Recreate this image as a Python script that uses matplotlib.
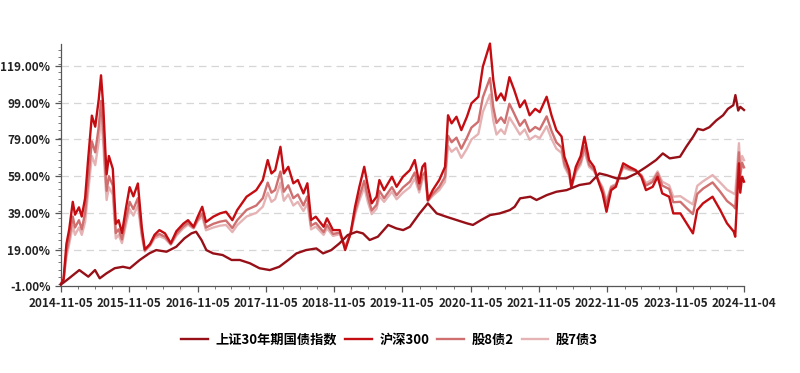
import matplotlib
matplotlib.use("Agg")
import matplotlib.pyplot as plt
import matplotlib.dates as mdates
from matplotlib.ticker import MultipleLocator, FuncFormatter
import pandas as pd

plt.rcParams['font.family'] = ['Noto Sans CJK SC', 'DejaVu Sans']

series_names = ["上证30年期国债指数", "沪深300", "股8债2", "股7债3"]

bond_dates = ["2014-11-05", "2014-11-20", "2014-12-19", "2015-02-12", "2015-04-01", "2015-05-07",
              "2015-06-01", "2015-07-07", "2015-08-20", "2015-10-03", "2015-11-09", "2016-01-01",
              "2016-02-21", "2016-03-29", "2016-05-23", "2016-07-14", "2016-08-27", "2016-10-03",
              "2016-10-28", "2016-11-26", "2016-12-22", "2017-01-27", "2017-03-19", "2017-05-06",
              "2017-06-19", "2017-08-12", "2017-10-02", "2017-11-26", "2018-01-16", "2018-03-05",
              "2018-04-18", "2018-06-08", "2018-08-02", "2018-09-07", "2018-10-21", "2018-12-04",
              "2019-01-17", "2019-03-06", "2019-04-08", "2019-05-14", "2019-06-27", "2019-08-21",
              "2019-10-04", "2019-11-09", "2019-12-15", "2020-02-05", "2020-03-20", "2020-05-06",
              "2020-06-26", "2020-08-20", "2020-10-14", "2020-11-16", "2020-12-30", "2021-02-16",
              "2021-04-08", "2021-06-01", "2021-06-27", "2021-07-26", "2021-09-19", "2021-10-22",
              "2021-12-16", "2022-02-05", "2022-04-01", "2022-05-15", "2022-06-09", "2022-08-03",
              "2022-09-23", "2022-10-30", "2022-12-23", "2023-02-12", "2023-04-08", "2023-06-01",
              "2023-07-23", "2023-08-28", "2023-10-04", "2023-11-28", "2023-12-31", "2024-02-06",
              "2024-03-02", "2024-03-31", "2024-05-03", "2024-06-09", "2024-07-15", "2024-08-10",
              "2024-09-08", "2024-09-19", "2024-10-04", "2024-10-15", "2024-11-04"]
bond_values = [0, 1.0, 3.3, 7.8, 4.2, 7.8,
               3.3, 6.0, 8.8, 9.6, 8.8, 13.3,
               16.9, 18.7, 17.8, 20.5, 25.1, 27.8,
               28.7, 24.2, 18.7, 16.9, 16.0, 13.3,
               13.3, 11.5, 8.8, 7.8, 9.6, 13.3,
               16.9, 18.7, 19.6, 16.9, 18.7, 22.4,
               26.9, 28.7, 27.8, 24.2, 26.0, 32.4,
               30.5, 29.6, 31.4, 38.7, 44.2, 38.7,
               36.9, 35.1, 33.3, 32.4, 35.1, 37.8,
               38.7, 40.5, 42.3, 46.9, 47.8, 46.0,
               48.7, 50.5, 51.4, 53.2, 54.2, 55.1,
               60.5, 59.6, 57.8, 57.8, 60.5, 64.1,
               67.8, 71.4, 68.7, 69.6, 75.0, 80.5,
               84.8, 84.1, 85.7, 89.4, 92.2, 95.7,
               97.7, 103.2, 94.8, 96.8, 95.1]

stock_dates = ["2014-11-05", "2014-11-20", "2014-12-05", "2014-12-20", "2015-01-08", "2015-01-20",
               "2015-02-10", "2015-02-25", "2015-03-15", "2015-03-31", "2015-04-20", "2015-05-08",
               "2015-05-27", "2015-06-08", "2015-06-20", "2015-07-01", "2015-07-08", "2015-07-20",
               "2015-08-10", "2015-08-26", "2015-09-10", "2015-09-28", "2015-10-20", "2015-11-08",
               "2015-11-28", "2015-12-22", "2016-01-12", "2016-01-28", "2016-02-25", "2016-03-20",
               "2016-04-15", "2016-05-15", "2016-06-15", "2016-07-15", "2016-08-20", "2016-09-15",
               "2016-10-15", "2016-11-06", "2016-11-30", "2016-12-20", "2017-01-28", "2017-03-05",
               "2017-04-06", "2017-05-10", "2017-06-05", "2017-07-25", "2017-09-15", "2017-10-20",
               "2017-11-15", "2017-12-05", "2017-12-25", "2018-01-22", "2018-02-09", "2018-03-05",
               "2018-04-01", "2018-04-25", "2018-05-25", "2018-06-15", "2018-07-05", "2018-07-30",
               "2018-09-10", "2018-09-28", "2018-10-30", "2018-12-05", "2019-01-03", "2019-02-01",
               "2019-02-25", "2019-03-20", "2019-04-15", "2019-05-05", "2019-05-25", "2019-06-20",
               "2019-07-05", "2019-07-30", "2019-09-10", "2019-10-05", "2019-11-08", "2019-12-15",
               "2020-01-10", "2020-02-03", "2020-02-20", "2020-03-05", "2020-03-20", "2020-04-15",
               "2020-05-20", "2020-06-20", "2020-07-06", "2020-07-25", "2020-08-20", "2020-09-15",
               "2020-10-15", "2020-11-08", "2020-12-15", "2021-01-08", "2021-01-30", "2021-02-15",
               "2021-03-05", "2021-03-22", "2021-04-15", "2021-05-05", "2021-05-30", "2021-06-25",
               "2021-07-25", "2021-08-20", "2021-09-15", "2021-10-15", "2021-11-08", "2021-12-15",
               "2022-01-10", "2022-02-05", "2022-03-05", "2022-03-20", "2022-04-15", "2022-04-26",
               "2022-05-20", "2022-06-15", "2022-07-05", "2022-07-30", "2022-08-25", "2022-09-15",
               "2022-10-10", "2022-10-31", "2022-11-25", "2022-12-20", "2023-01-28", "2023-03-01",
               "2023-04-05", "2023-05-05", "2023-05-30", "2023-07-05", "2023-07-31", "2023-08-25",
               "2023-10-01", "2023-10-23", "2023-11-30", "2024-01-02", "2024-02-05", "2024-02-28",
               "2024-03-30", "2024-05-20", "2024-06-30", "2024-08-05", "2024-09-10", "2024-09-18",
               "2024-10-08", "2024-10-15", "2024-10-25", "2024-11-04"]

csi300_values = [0, 3, 22, 30, 45, 38,
                 42, 37, 47, 68, 92, 86,
                 101, 114, 97, 73, 60, 70,
                 63, 33, 35, 28, 42, 53,
                 48, 55, 31, 19, 22, 27,
                 29.6, 27.8, 22.4, 29, 33, 35,
                 31.4, 36.9, 42.3, 34, 36.9, 38.7,
                 39.6, 35, 40.5, 47.8, 51.4, 56.9,
                 67.8, 60.5, 62.3, 75, 60.5, 64.1,
                 55.1, 56.9, 49.6, 55.1, 35.1, 36.9,
                 31.4, 36, 29.6, 29.6, 18.7, 27.8,
                 42.3, 53.2, 64.1, 53.2, 44.2, 47.8,
                 56.9, 51.4, 58.7, 53.2, 58.7, 62.3,
                 67.8, 55.1, 64.1, 66, 46, 51.4,
                 56.9, 64.1, 92.2, 87.8, 91.4, 84.1,
                 91.4, 98.7, 102.3, 118.7, 125.9, 131.3,
                 111.3, 100.3, 104.1, 100.3, 113, 105.9,
                 96.6, 100.3, 92.2, 95.7, 93.9, 102.3,
                 92.2, 84.1, 80.6, 69.6, 62.3, 53.2,
                 64.1, 70, 80.5, 67.8, 64.1, 56.9,
                 49.6, 39.6, 51.4, 53.2, 66, 64.1,
                 62.3, 58.7, 51.4, 53.2, 58.7, 49.6,
                 47.8, 38.7, 38.7, 33.3, 27.8, 40.5,
                 44.2, 47.8, 40.5, 33.3, 28.8, 26,
                 66, 50, 58.7, 56]

mix82_values = [0, 2.6, 17.5, 25, 37, 31,
                35, 30, 39, 56, 78, 72,
                86, 100, 84, 62, 51, 59,
                54, 28, 30, 24.5, 36, 45,
                41, 47, 28, 18.5, 21.5, 26,
                27.5, 26, 22, 27.5, 31.5, 33.5,
                30.8, 35.3, 38.7, 31, 33, 34.2,
                34.8, 30.7, 35, 40.6, 43, 47,
                55.5, 50, 51.5, 61.5, 50.5, 54,
                47, 49, 43, 48, 32, 33.5,
                28.5, 32.5, 27.5, 28.2, 20, 27.7,
                39.5, 48, 56.5, 47.5, 40.3, 43.4,
                51, 47, 53, 48.6, 52.8, 56,
                61, 51.8, 59.3, 61.2, 45.6, 49.3,
                53.2, 58.7, 81, 77.5, 80, 74,
                80, 85.5, 88.7, 102, 108, 112.5,
                96.5, 88, 91, 88, 98.5, 93,
                86.5, 89.7, 83.3, 85.8, 84.4, 91.6,
                83.7, 77.4, 74.7, 65.9, 60.2, 53,
                62, 66.8, 75.3, 65.2, 62.6, 57.3,
                51.8, 43.6, 52.8, 54.1, 64.4, 63,
                61.9, 59.4, 53.9, 55.9, 60.7, 53.9,
                52, 44.8, 45, 41.6, 38.3, 49.3,
                52.2, 55.6, 50.5, 45.5, 42.6, 41.4,
                72, 59.3, 66.3, 63.8]

mix73_values = [0, 2.3, 15, 22, 32, 27,
                31, 27, 34, 50, 70, 65,
                78, 92, 77, 56, 46, 53,
                49, 25, 27, 22.5, 33, 41,
                37.5, 43, 26, 18, 21, 25,
                26.3, 25, 21.6, 26.5, 30.5, 32.5,
                30.5, 34.5, 37, 29.5, 31, 32,
                32.4, 28.5, 32.3, 37, 39, 42.4,
                50, 45, 46.5, 55.4, 45.6, 49,
                43, 45, 40, 44, 30, 31.5,
                27, 30.6, 26.4, 27.4, 20.6, 27.7,
                38, 45.7, 53, 44.7, 38.3, 41.3,
                48, 45, 50.5, 46.4, 50, 53,
                57.7, 50.1, 57, 58.8, 45.4, 48.3,
                51.4, 56, 75.5, 72.3, 74.5, 69,
                74, 79, 82, 94, 99.5, 103.5,
                89.3, 81.7, 84.5, 82, 91, 86.8,
                81.7, 84.5, 78.9, 81, 79.7, 86.2,
                79.4, 74, 71.7, 64.1, 59.1, 53,
                60.9, 65.3, 72.7, 64, 61.8, 57.5,
                52.9, 45.6, 53.5, 54.6, 63.5, 62.4,
                61.8, 59.7, 55.2, 57.2, 61.6, 56,
                54, 47.8, 48.1, 45.8, 43.6, 53.7,
                56.2, 59.6, 55.5, 51.6, 49.6, 49.1,
                77, 64, 70, 67.7]

y_ticks = [-1, 19, 39, 59, 79, 99, 119]
x_tick_labels = ["2014-11-05", "2015-11-05", "2016-11-05", "2017-11-05", "2018-11-05",
                 "2019-11-05", "2020-11-05", "2021-11-05", "2022-11-05", "2023-11-05", "2024-11-04"]

colors = ["#971018", "#c40d12", "#cf6f6f", "#e6b3b5"]

bd = pd.to_datetime(bond_dates)
sd = pd.to_datetime(stock_dates)

fig = plt.figure(figsize=(8.0, 3.73), dpi=100)
ax = fig.add_axes([0.076, 0.2327, 0.854, 0.649])

lw = 1.7
l3, = ax.plot(sd, mix73_values, color=colors[3], lw=lw, label=series_names[3], clip_on=False, zorder=2)
l2, = ax.plot(sd, mix82_values, color=colors[2], lw=lw, label=series_names[2], clip_on=False, zorder=3)
l1, = ax.plot(sd, csi300_values, color=colors[1], lw=lw, label=series_names[1], clip_on=False, zorder=4)
l0, = ax.plot(bd, bond_values, color=colors[0], lw=lw, label=series_names[0], clip_on=False, zorder=5)

xt = pd.to_datetime(x_tick_labels)
ax.set_xlim(xt[0], xt[-1])
ax.set_xticks(xt)
ax.set_xticklabels(x_tick_labels)
ax.xaxis.set_minor_locator(mdates.MonthLocator(bymonth=[2, 5, 8], bymonthday=5))

ax.set_ylim(-1, 131)
ax.set_yticks(y_ticks)
ax.yaxis.set_major_formatter(FuncFormatter(lambda v, p: f"{v:.2f}%"))
ax.yaxis.set_minor_locator(MultipleLocator(4))

for yv in y_ticks[1:]:
    ax.axhline(yv, color="#d6d6d6", lw=0.9, ls=(0, (6, 4)), zorder=1)

for s in ["top", "right"]:
    ax.spines[s].set_visible(False)
for s in ["left", "bottom"]:
    ax.spines[s].set_color("#555555")
    ax.spines[s].set_linewidth(0.9)

ax.tick_params(axis="both", which="major", labelsize=8.5, colors="#555555", labelcolor="#222222",
               length=4, width=0.9)
ax.tick_params(axis="both", which="minor", colors="#777777", length=2.5, width=0.7)
for lab in ax.get_xticklabels() + ax.get_yticklabels():
    lab.set_fontweight("bold")

leg = fig.legend(handles=[l0, l1, l2, l3], loc="center", bbox_to_anchor=(0.487, 0.09), ncol=4,
                 frameon=False, handlelength=2.0, columnspacing=0.6, handletextpad=0.6,
                 prop={"weight": "bold", "size": 9.5})

fig.savefig("out.png", dpi=100, facecolor="white")
